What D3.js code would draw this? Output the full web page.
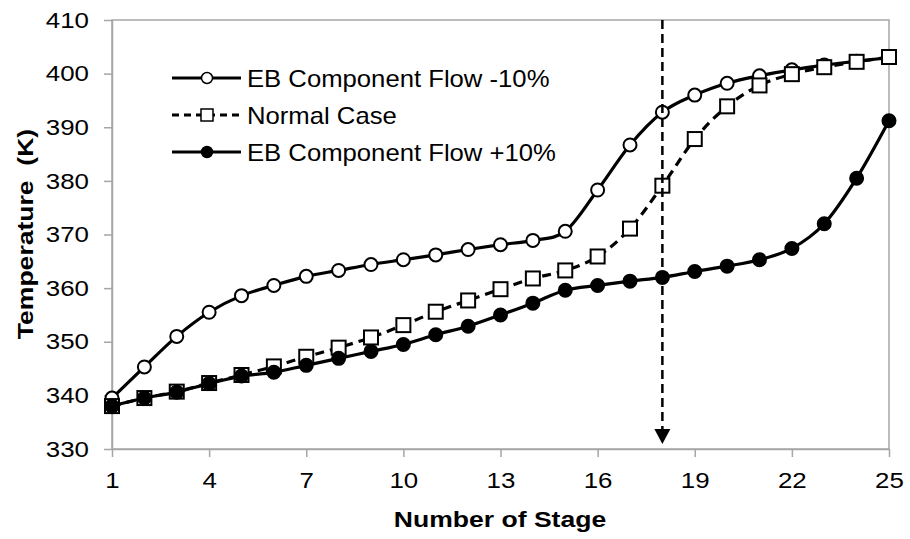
<!DOCTYPE html>
<html>
<head>
<meta charset="utf-8">
<script src="https://cdn.jsdelivr.net/npm/d3@7"></script>
<style>
  body { margin: 0; background: #fff; }
  text { font-family: Arial, "Liberation Sans", sans-serif; fill: #000; white-space: pre; }
</style>
</head>
<body>
<div id="chart"></div>
<script>
// Data
const stages = [1, 2, 3, 4, 5, 6, 7, 8, 9, 10, 11, 12, 13, 14, 15, 16, 17, 18, 19, 20, 21, 22, 23, 24, 25];
const flowMinus10 = [339.5, 345.3, 351.0, 355.5, 358.6, 360.5, 362.2, 363.3, 364.4, 365.3, 366.2, 367.2, 368.1,
    368.9, 370.6, 378.3, 386.7, 392.8, 396.0, 398.2, 399.6, 400.7, 401.6, 402.3, 403.0];
const normalCase = [338.0, 339.5, 340.7, 342.3, 343.8, 345.4, 347.2, 348.9, 350.8, 353.1, 355.6, 357.7, 359.8,
    361.8, 363.3, 365.9, 371.1, 379.1, 387.8, 393.9, 397.8, 399.9, 401.2, 402.2, 403.1];
const flowPlus10 = [338.0, 339.5, 340.6, 342.2, 343.6, 344.3, 345.6, 346.9, 348.2, 349.5, 351.3, 352.9, 355.0,
    357.2, 359.6, 360.5, 361.3, 362.0, 363.1, 364.1, 365.3, 367.4, 372.0, 380.5, 391.2];
const seriesNames = ["EB Component Flow -10%", "Normal Case", "EB Component Flow +10%"];
const xTicks = [1, 4, 7, 10, 13, 16, 19, 22, 25];
const yTicks = [330, 340, 350, 360, 370, 380, 390, 400, 410];
const arrowStage = 18;

const W = 910, H = 539;
const margin = { top: 20, right: 21, bottom: 90, left: 112 },
    width = W - margin.left - margin.right,
    height = H - margin.top - margin.bottom;

// the reference text is drawn a bit wide
const tickStretch = 1.15, titleStretch = 1.18, legendStretch = 1.07;

const svg = d3.select("#chart")
    .append("svg")
    .attr("width", W)
    .attr("height", H)
    .append("g")
    .attr("transform", `translate(${margin.left},${margin.top})`);

const x = d3.scaleLinear().domain([1, 25]).range([0, width]);
const y = d3.scaleLinear().domain([330, 410]).range([height, 0]);

// plot frame
svg.append("rect")
    .attr("width", width)
    .attr("height", height)
    .attr("fill", "none")
    .attr("stroke", "#a6a6a6")
    .attr("stroke-width", 1.5);

// axes
const xAxis = svg.append("g")
    .attr("transform", `translate(0,${height})`)
    .call(d3.axisBottom(x).tickValues(xTicks).tickSize(8).tickPadding(15).tickSizeOuter(0));
const yAxis = svg.append("g")
    .call(d3.axisLeft(y).tickValues(yTicks).tickSize(8).tickPadding(15).tickSizeOuter(0));
[xAxis, yAxis].forEach(a => {
    a.select(".domain").attr("stroke", "#a6a6a6").attr("stroke-width", 1.5);
    a.selectAll(".tick line").attr("stroke", "#a6a6a6").attr("stroke-width", 1.5);
    a.selectAll(".tick text")
        .attr("font-family", "Arial, 'Liberation Sans', sans-serif")
        .attr("font-size", 22.5)
        .attr("fill", "#000")
        .attr("transform", `scale(${tickStretch},1)`);
});
yAxis.selectAll(".tick text").attr("x", -23 / tickStretch);

// lines
const data = [flowMinus10, normalCase, flowPlus10].map(vals => stages.map((s, i) => ({ s, v: vals[i] })));
const line = d3.line()
    .x(d => x(d.s))
    .y(d => y(d.v))
    .curve(d3.curveCatmullRom.alpha(0));

const dashes = [null, "9,6", null];
data.forEach((pts, k) => {
    svg.append("path")
        .datum(pts)
        .attr("fill", "none")
        .attr("stroke", "#000")
        .attr("stroke-width", 3.2)
        .attr("stroke-dasharray", dashes[k])
        .attr("d", line);

    if (k === 1) {
        svg.selectAll(".sq")
            .data(pts)
            .enter().append("rect")
            .attr("class", "sq")
            .attr("x", d => x(d.s) - 7)
            .attr("y", d => y(d.v) - 7)
            .attr("width", 14)
            .attr("height", 14)
            .attr("fill", "#fff")
            .attr("stroke", "#000")
            .attr("stroke-width", 2);
    } else {
        svg.selectAll(".dot" + k)
            .data(pts)
            .enter().append("circle")
            .attr("class", "dot" + k)
            .attr("cx", d => x(d.s))
            .attr("cy", d => y(d.v))
            .attr("r", 6.5)
            .attr("fill", k === 0 ? "#fff" : "#000")
            .attr("stroke", "#000")
            .attr("stroke-width", 2);
    }
});

// dashed arrow at stage 18
svg.append("line")
    .attr("x1", x(arrowStage))
    .attr("x2", x(arrowStage))
    .attr("y1", 0)
    .attr("y2", height - 20)
    .attr("stroke", "#000")
    .attr("stroke-width", 2.5)
    .attr("stroke-dasharray", "9,5");
svg.append("path")
    .attr("d", `M${x(arrowStage) - 8},${height - 20} L${x(arrowStage) + 8},${height - 20} L${x(arrowStage)},${height - 5} Z`)
    .attr("fill", "#000");

// legend
const legend = svg.append("g")
    .attr("transform", "translate(60,58)")
    .selectAll("g")
    .data(seriesNames)
    .enter().append("g")
    .attr("transform", (d, i) => `translate(0,${i * 37})`);

legend.append("line")
    .attr("x1", 0)
    .attr("x2", 69)
    .attr("stroke", "#000")
    .attr("stroke-width", 3)
    .attr("stroke-dasharray", (d, i) => i === 1 ? "7,5" : null);

legend.each(function (d, i) {
    const g = d3.select(this);
    if (i === 1) {
        g.append("rect")
            .attr("x", 29).attr("y", -6)
            .attr("width", 12).attr("height", 12)
            .attr("fill", "#fff").attr("stroke", "#000").attr("stroke-width", 1.5);
    } else {
        g.append("circle")
            .attr("cx", 35).attr("r", 5.5)
            .attr("fill", i === 0 ? "#fff" : "#000")
            .attr("stroke", "#000").attr("stroke-width", 1.5);
    }
});

legend.append("text")
    .attr("transform", `translate(75,0) scale(${legendStretch},1)`)
    .attr("dy", "0.36em")
    .attr("font-size", 24)
    .text(d => d);

// axis titles
svg.append("text")
    .attr("transform", `translate(${500 - margin.left},${527 - margin.top}) scale(${titleStretch},1)`)
    .attr("text-anchor", "middle")
    .attr("font-size", 22.5)
    .attr("font-weight", "bold")
    .text("Number of Stage");

svg.append("text")
    .attr("transform", `translate(${33 - margin.left},${234 - margin.top}) rotate(-90) scale(${titleStretch},1)`)
    .attr("text-anchor", "middle")
    .attr("font-size", 22.5)
    .attr("font-weight", "bold")
    .text("Temperature  (K)");
</script>
</body>
</html>
